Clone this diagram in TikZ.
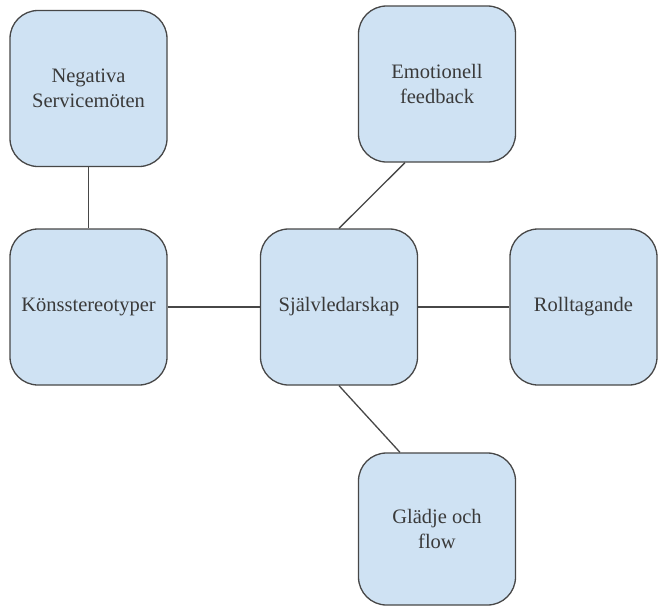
\documentclass[tikz,border=0pt]{standalone}
\usepackage{fontspec}
\setmainfont{Liberation Serif}
\usepackage{tikz}
\definecolor{boxblue}{HTML}{CFE2F3}
\definecolor{boxline}{HTML}{474747}
\definecolor{textgray}{HTML}{3A3A3A}

\begin{document}
\begin{tikzpicture}[x=1pt,y=-1pt,
	theme/.style={rectangle,rounded corners=28pt,minimum width=157pt,minimum height=156pt,
		fill=boxblue,draw=boxline,line width=1.3pt,text=textgray,align=center,
		font=\fontsize{20.5}{25}\selectfont}]
	\useasboundingbox (0,0) rectangle (659,606);
	\draw[] (88.5,88.5) node[theme] (Negativa) {Negativa\\Servicemöten};
	\draw[] (437,84) node[theme] (Emotionell) {Emotionell\\feedback};
	\draw[] (88.5,307) node[theme] (Kon) {Könsstereotyper};
	\draw[] (339,307) node[theme] (Sjalv) {Självledarskap};
	\draw[] (583.5,307) node[theme,minimum width=147pt] (Roll) {Rolltagande};
	\draw[] (437,529) node[theme,minimum height=152pt] (Gladje) {Glädje och\\flow};

	\draw[line width=1.3pt,boxline] (Negativa) -- (Kon);
	\draw[line width=1.3pt,boxline] (Kon) -- (Sjalv);
	\draw[line width=1.3pt,boxline] (Sjalv) -- (Roll);
	\draw[line width=1.3pt,boxline] (Sjalv.north) -- ([xshift=-32pt]Emotionell.south);
	\draw[line width=1.3pt,boxline] (Sjalv.south) -- ([xshift=-37pt]Gladje.north);
\end{tikzpicture}
\end{document}
